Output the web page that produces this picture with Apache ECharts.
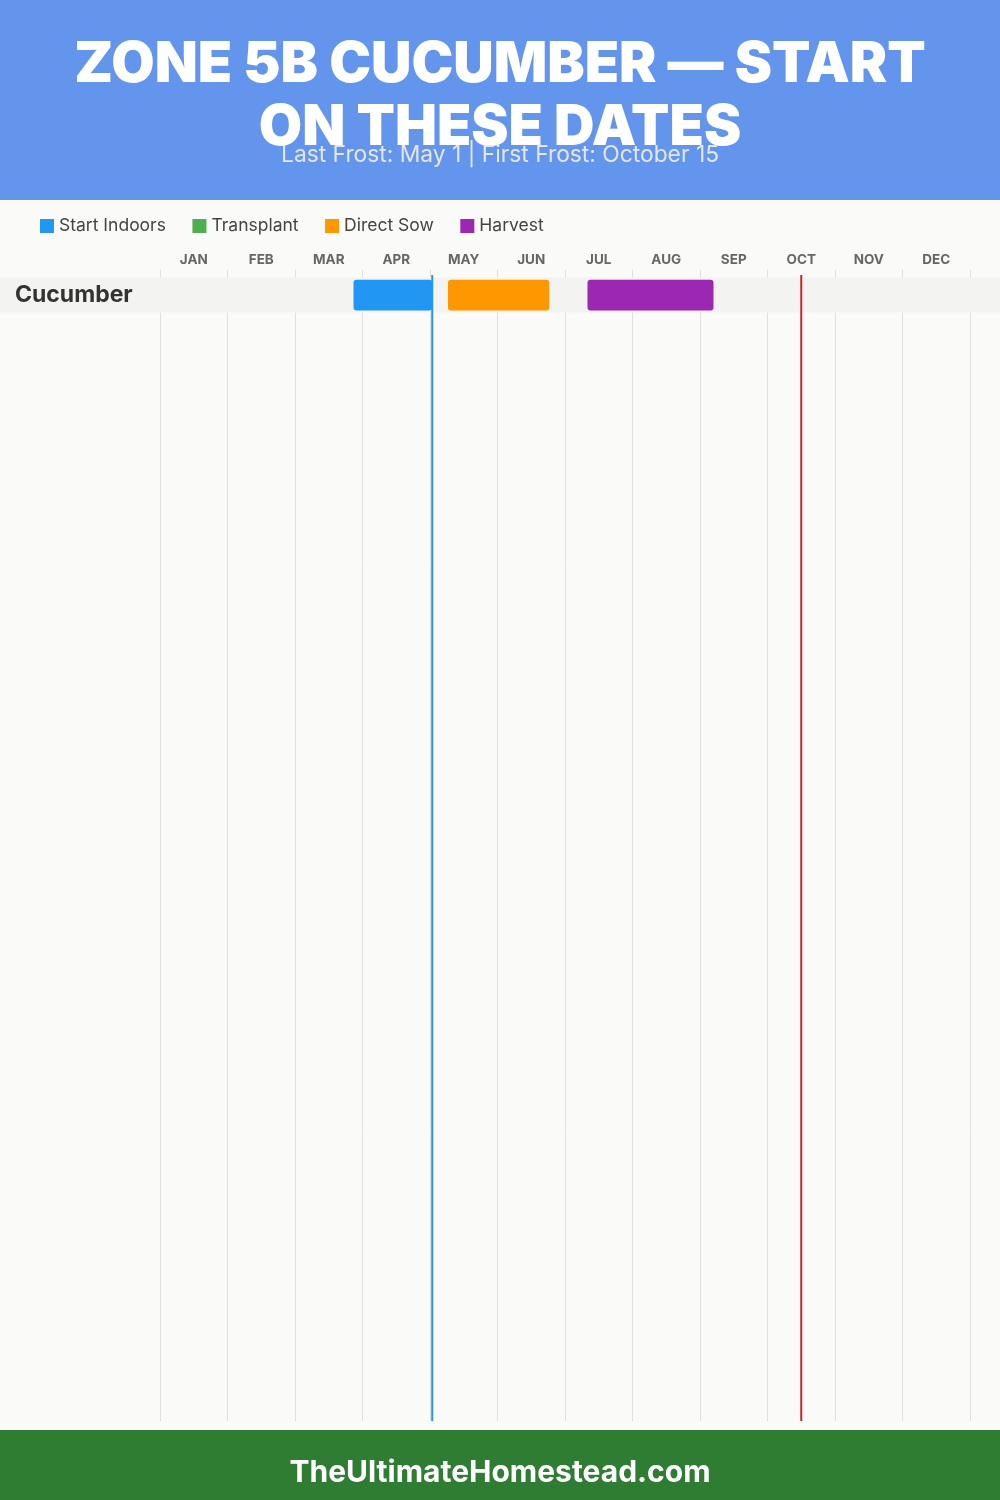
<!DOCTYPE html>
<html><head><meta charset="utf-8">
<script src="https://cdn.jsdelivr.net/npm/echarts@6/dist/echarts.min.js"></script>
<style>html,body{margin:0;padding:0;background:#fafaf8}#c{width:1000px;height:1500px}</style>
</head><body><div id="c"></div><script>
// ---- data ----
const titleText = 'ZONE 5B CUCUMBER — START\nON THESE DATES';
const subtitleText = 'Last Frost: May 1 | First Frost: October 15';
const footerText = 'TheUltimateHomestead.com';
const monthAbbr = ['Jan','Feb','Mar','Apr','May','Jun','Jul','Aug','Sep','Oct','Nov','Dec'];
const monthLabels = ['JAN','FEB','MAR','APR','MAY','JUN','JUL','AUG','SEP','OCT','NOV','DEC'];
const crops = ['Cucumber'];
const stageNames = ['Start Indoors','Transplant','Direct Sow','Harvest'];
const stageColors = ['#2196F3','#4CAF50','#FF9800','#9C27B0'];
// windows per stage: [crop index, start date, end date]
const startIndoors = [[0, 'Mar 26', 'May 1']];
const transplant = [];
const directSow = [[0, 'May 8', 'Jun 23']];
const harvest = [[0, 'Jul 10', 'Sep 6']];
const frostDates = ['May 1', 'Oct 15'];
const frostColors = ['#2196F3', '#C62828'];

const FONT = 'Inter, "Open Sans", sans-serif';
const toMonth = s => { const p = s.split(' '); return monthAbbr.indexOf(p[0]) + (+p[1]) / 30; };
const stageData = [startIndoors, transplant, directSow, harvest];

const chart = echarts.init(document.getElementById('c'));
const stageSeries = stageNames.map((name, k) => ({
  name, type: 'custom', xAxisIndex: 2, yAxisIndex: 1, z: 3,
  itemStyle: { color: stageColors[k] },
  encode: { x: [1, 2], y: 0 },
  data: stageData[k].map(w => [w[0], toMonth(w[1]), toMonth(w[2])]),
  renderItem: (params, api) => {
    const a = api.coord([api.value(1), api.value(0)]);
    const b = api.coord([api.value(2), api.value(0)]);
    const band = api.size([0, 1])[1];
    const h = band * 0.877;
    return { type: 'rect', shape: { x: a[0], y: a[1] - h / 2 + 0.2, width: b[0] - a[0], height: h, r: 3 },
      style: { fill: api.visual('color') } };
  }
}));

chart.setOption({
  backgroundColor: '#fafaf8',
  animation: false,
  graphic: [
    { type: 'rect', z: -10, shape: { x: 0, y: 0, width: 1000, height: 200 }, style: { fill: '#6495ED' } },
    { type: 'rect', z: -10, shape: { x: 0, y: 1430, width: 1000, height: 70 }, style: { fill: '#2E7D32' } }
  ],
  title: [
    { text: titleText, left: 'center', top: 29,
      textStyle: { color: '#fff', fontSize: 56, fontWeight: 900, lineHeight: 63, fontFamily: FONT } },
    { text: subtitleText, left: 'center', top: 139,
      textStyle: { color: '#e4e6ea', fontSize: 22.8, fontWeight: 400, fontFamily: FONT } },
    { text: footerText, left: 'center', top: 1453,
      textStyle: { color: '#fff', fontSize: 30, fontWeight: 700, fontFamily: FONT } }
  ],
  legend: {
    data: stageNames, left: 40, top: 217, icon: 'rect', itemWidth: 14, itemHeight: 14, itemGap: 26.5, padding: 0,
    textStyle: { fontSize: 17.5, color: '#444', fontFamily: FONT }
  },
  grid: [
    { left: 160, right: 30, top: 275, bottom: 79 },
    { left: 160, right: 30, top: 277.5, height: 35 }
  ],
  xAxis: [
    { gridIndex: 0, type: 'value', min: 0, max: 12, interval: 1, position: 'bottom',
      axisLine: { show: false }, axisTick: { show: false }, axisLabel: { show: false },
      splitLine: { show: true, lineStyle: { color: '#e0e0e0', width: 1 } } },
    { gridIndex: 0, type: 'category', data: monthLabels, position: 'top', boundaryGap: true,
      axisLine: { show: false },
      axisTick: { show: true, length: 5, lineStyle: { color: '#e0e0e0' } },
      axisLabel: { margin: 8, fontSize: 13.5, fontWeight: 'bold', color: '#666', fontFamily: FONT } },
    { gridIndex: 1, type: 'value', min: 0, max: 12, show: false }
  ],
  yAxis: [
    { gridIndex: 0, type: 'value', min: 0, max: 1, show: false },
    { gridIndex: 1, type: 'category', data: crops, inverse: true, z: 6,
      axisLine: { show: false }, axisTick: { show: false }, splitLine: { show: false },
      axisLabel: { align: 'left', margin: 145, fontSize: 23, fontWeight: 'bold', color: '#333', fontFamily: FONT,
        padding: [3, 0, 0, 0] } }
  ],
  series: [
    { name: 'rows', type: 'custom', xAxisIndex: 2, yAxisIndex: 1, z: 1, silent: true,
      encode: { y: 0 },
      data: crops.map((c, i) => [i]),
      renderItem: (params, api) => {
        const y = api.coord([0, api.value(0)])[1];
        const h = api.size([0, 1])[1];
        return { type: 'rect', shape: { x: 0, y: y - h / 2, width: api.getWidth(), height: h },
          style: { fill: '#f3f3f1' } };
      } },
    ...stageSeries,
    { name: 'frost', type: 'custom', xAxisIndex: 0, yAxisIndex: 0, z: 5, silent: true,
      encode: { x: 0 },
      data: frostDates.map((d, i) => [toMonth(d), i]),
      renderItem: (params, api) => {
        const top = api.coord([api.value(0), 1]);
        const bot = api.coord([api.value(0), 0]);
        return { type: 'line', shape: { x1: top[0], y1: top[1], x2: bot[0], y2: bot[1] },
          style: { stroke: frostColors[api.value(1)], lineWidth: 2 } };
      } }
  ]
});
</script></body></html>
